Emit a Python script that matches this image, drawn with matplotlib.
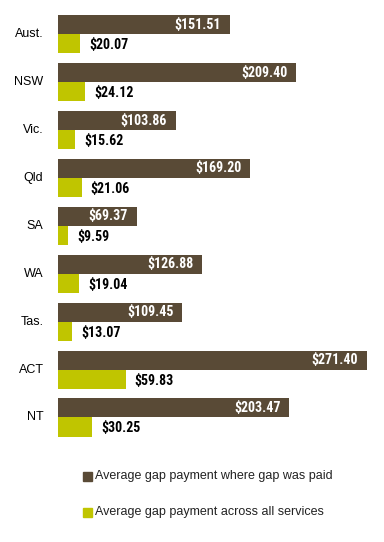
import matplotlib
matplotlib.use("Agg")
import matplotlib.pyplot as plt
from matplotlib.patches import Rectangle
from matplotlib import font_manager
import numpy as np

categories = ["Aust.", "NSW", "Vic.", "Qld", "SA", "WA", "Tas.", "ACT", "NT"]
gap_paid = [151.51, 209.40, 103.86, 169.20, 69.37, 126.88, 109.45, 271.40, 203.47]
all_services = [20.07, 24.12, 15.62, 21.06, 9.59, 19.04, 13.07, 59.83, 30.25]
series_names = ["Average gap payment where gap was paid",
                "Average gap payment across all services"]

dark = "#594a36"
green = "#c0c500"

installed = {f.name for f in font_manager.fontManager.ttflist}
narrow_fam = None
for cand in ["Liberation Sans Narrow", "DejaVu Sans Condensed", "Roboto Condensed", "Open Sans Condensed"]:
    if cand in installed:
        narrow_fam = cand
        break
narrow = ([narrow_fam] if narrow_fam else []) + ["Liberation Sans", "DejaVu Sans"]
regular = ["Liberation Sans", "DejaVu Sans"]
vsize = 10 if narrow_fam else 9.5

W, H = 384, 542
fig = plt.figure(figsize=(W / 100, H / 100), dpi=100)
left_px, right_px = 57.5, 376.7
top_px, bot_px = 10, 442
ax = fig.add_axes([left_px / W, 1 - bot_px / H, (right_px - left_px) / W, (bot_px - top_px) / H])
xmax = (right_px - left_px) / 1.14
ax.set_xlim(0, xmax)
ax.set_ylim((bot_px - 34.3) / 47.9, (top_px - 34.3) / 47.9)

y = np.arange(len(categories))
h = 0.397
ax.barh(y - h / 2, gap_paid, height=h, color=dark, edgecolor="none")
ax.barh(y + h / 2, all_services, height=h, color=green, edgecolor="none")

px = xmax / (right_px - left_px)
for yi, v in zip(y, gap_paid):
    ax.text(v - 9 * px, yi - h / 2, f"${v:.2f}", ha="right", va="center",
            color="white", fontsize=vsize, fontweight="bold", family=narrow)
for yi, v in zip(y, all_services):
    ax.text(v + 9 * px, yi + h / 2 + 0.03, f"${v:.2f}", ha="left", va="center",
            color="black", fontsize=vsize, fontweight="bold", family=narrow)
for yi, c in zip(y, categories):
    ax.text(-14 * px, yi, c, ha="right", va="center", color="black",
            fontsize=9, family=regular)

for s in ax.spines.values():
    s.set_visible(False)
ax.set_xticks([])
ax.set_yticks([])

# legend
for i, (name, col) in enumerate(zip(series_names, [dark, green])):
    cy = 476.5 + i * 36
    fig.patches.append(Rectangle((83 / W, 1 - (cy + 4) / H), 8.5 / W, 8.5 / H,
                                 transform=fig.transFigure, color=col))
    fig.text(95 / W, 1 - cy / H, name, ha="left", va="center", fontsize=9,
             family=regular, color="#222222")

fig.savefig("out.png", dpi=100)
